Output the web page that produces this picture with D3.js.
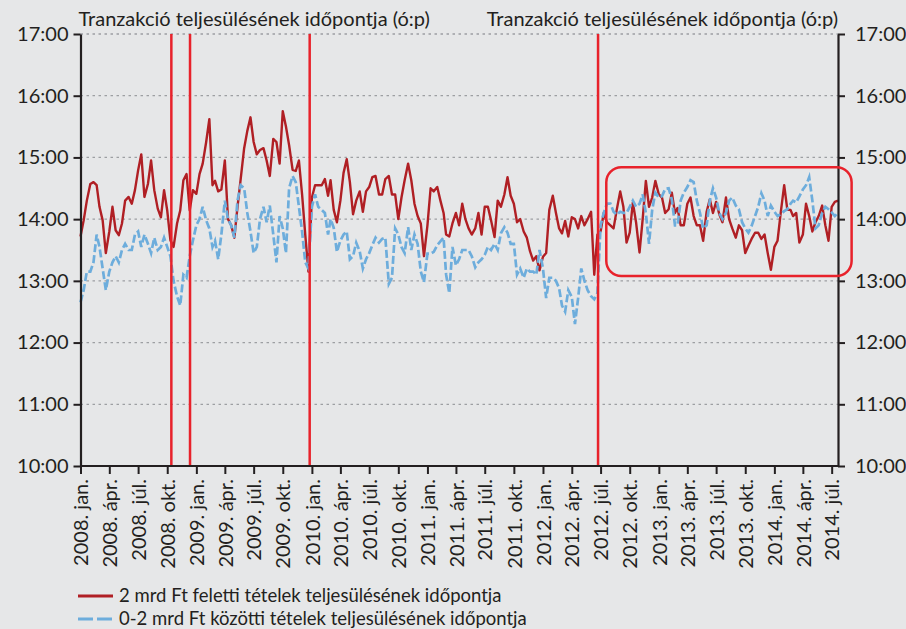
<!DOCTYPE html>
<html>
<head>
<meta charset="utf-8">
<script src="https://cdn.jsdelivr.net/npm/d3@7"></script>
<style>
body { margin: 0; background: #e6e7e8; }
svg { display: block; font-family: Lato, "Open Sans", sans-serif; }
</style>
</head>
<body>
<script>
// series start in 2008 jan, three readings per month (1st, 11th, 21st)
var startYear = 2008;
var perMonth = 3;

// 2 mrd Ft feletti tetelek (hours, decimal)
var red = [
 13.72,13.98,14.3,14.57,14.6,14.55,14.2,13.98,13.45,13.8,14.2,13.82,13.74,13.93,14.3,14.36,14.25,14.47,14.79,15.05,
 14.36,14.57,14.95,14.47,14.17,14.03,14.47,14.14,13.66,13.55,13.93,14.14,14.63,14.73,14.14,14.47,14.41,14.73,14.9,15.25,
 15.62,14.55,14.62,14.45,14.48,14.95,14.0,13.9,13.7,14.2,14.65,15.15,15.43,15.65,15.25,15.05,15.12,15.15,14.95,14.7,
 15.3,15.25,14.9,15.75,15.5,15.2,14.8,14.78,14.95,14.4,13.75,13.15,14.35,14.55,14.55,14.55,14.65,14.38,14.63,14.15,
 13.95,14.3,14.75,14.97,14.6,14.08,14.3,14.45,14.12,14.45,14.52,14.68,14.7,14.4,14.4,14.65,14.7,14.4,14.4,14.0,
 14.35,14.63,14.9,14.63,14.25,14.05,13.93,13.4,13.9,14.5,14.45,14.52,14.3,14.1,13.75,13.72,13.93,14.1,13.9,14.25,
 14.0,13.85,13.75,13.85,14.1,13.75,14.2,14.2,13.98,13.71,14.3,14.2,14.4,14.68,14.38,14.25,13.95,14.0,13.8,13.7,
 13.48,13.33,13.4,13.17,13.39,13.45,14.15,14.38,14.1,13.85,13.77,13.97,13.72,14.03,14.0,13.85,14.05,13.9,14.0,14.12,
 13.1,13.75,13.8,14.1,13.95,13.9,13.85,14.15,14.45,14.2,13.62,13.78,14.27,13.95,13.46,14.0,14.62,14.2,14.35,14.62,
 14.4,14.35,14.1,14.16,14.43,14.1,14.18,13.9,13.9,14.25,14.35,14.05,13.9,13.9,13.65,14.12,14.32,14.1,14.28,14.08,
 13.95,14.35,14.0,13.85,13.7,13.9,13.82,13.45,13.57,13.68,13.78,13.78,13.68,13.75,13.45,13.18,13.55,13.65,14.1,14.55,
 14.15,14.15,14.05,14.1,13.62,13.75,14.25,14.05,13.8,13.95,14.05,14.22,13.9,13.65,14.2,14.28,14.3
];

// 0-2 mrd Ft kozotti tetelek (hours, decimal)
var blue = [
 12.65,12.85,13.15,13.15,13.3,13.75,13.55,13.2,12.85,13.15,13.3,13.4,13.3,13.5,13.6,13.5,13.5,13.75,13.8,13.55,
 13.75,13.6,13.45,13.7,13.5,13.55,13.7,13.55,13.4,13.0,12.75,12.6,13.1,13.05,13.4,13.65,13.9,14.0,14.2,13.98,
 13.85,13.55,13.65,13.35,13.75,14.3,14.0,13.9,13.7,14.3,14.55,14.5,14.1,13.8,13.45,13.55,14.0,14.2,13.95,14.22,
 13.75,13.3,14.05,13.85,13.45,14.5,14.7,14.6,14.2,13.8,13.3,13.2,14.2,14.4,14.2,14.15,14.1,13.75,14.0,13.86,
 13.47,13.65,13.75,13.8,13.35,13.4,13.62,13.48,13.2,13.35,13.45,13.58,13.7,13.62,13.68,13.7,12.95,13.05,13.85,13.75,
 13.55,13.45,13.87,13.5,13.75,13.6,13.15,12.98,13.44,13.44,13.47,13.58,13.64,13.7,13.1,12.8,13.55,13.25,13.35,13.5,
 13.5,13.5,13.4,13.22,13.3,13.35,13.42,13.55,13.5,13.6,13.5,13.77,13.87,13.78,13.6,13.6,13.1,13.2,13.05,13.2,
 13.15,13.15,13.1,13.5,13.2,12.72,13.05,13.05,13.0,12.88,12.6,12.5,12.85,12.74,12.3,12.72,13.2,13.0,12.85,12.75,
 12.7,12.8,13.9,14.1,14.25,14.25,14.12,14.07,14.12,14.1,14.1,14.2,14.3,14.2,14.25,14.4,14.1,13.6,14.15,14.43,
 14.35,14.37,14.49,14.5,14.32,13.9,13.9,14.3,14.43,14.52,14.63,14.6,14.3,14.1,13.85,13.9,14.3,14.5,14.35,14.1,
 14.0,14.1,14.3,14.35,14.22,14.16,13.95,13.85,13.78,13.89,14.05,14.2,14.42,14.3,14.05,14.22,14.12,14.05,14.08,14.13,
 14.16,14.25,14.3,14.27,14.37,14.48,14.55,14.68,14.3,13.85,13.9,14.1,14.2,14.16,14.11,14.05,14.1
];

var hourTicks = [10, 11, 12, 13, 14, 15, 16, 17];
var quarterNames = ["jan.", "ápr.", "júl.", "okt."];
var eventDates = ["2008-10-14", "2008-12-12", "2009-12-25", "2012-06-23"];
var highlightDates = ["2012-07-19", "2014-09-02"];
var highlightHours = [13.08, 14.84];
var titleText = "Tranzakció teljesülésének időpontja (ó:p)";
var legendLabels = ["2 mrd Ft feletti tételek teljesülésének időpontja",
                    "0-2 mrd Ft közötti tételek teljesülésének időpontja"];

var width = 906, height = 629;
var plotLeft = 80.5, plotRight = 838, plotTop = 34, plotBottom = 466;
var redColor = "#b01f24", blueColor = "#6daddc", markColor = "#e8222b", axisColor = "#231f20";

function pointDate(i) {
  return new Date(startYear, Math.floor(i / perMonth), 1 + 10 * (i % perMonth));
}
var parse = d3.timeParse("%Y-%m-%d");

var x = d3.scaleTime()
  .domain([new Date(2008, 0, 1), new Date(2014, 6, 21)])
  .range([plotLeft, plotRight]);
var y = d3.scaleLinear()
  .domain([10, 17])
  .range([plotBottom, plotTop]);

var svg = d3.select("body").append("svg")
  .attr("width", width)
  .attr("height", height);

svg.append("rect")
  .attr("width", width).attr("height", height)
  .attr("fill", "#e6e7e8");

// grid
svg.append("g").selectAll("line")
  .data(hourTicks.filter(function(d){ return d > 10; }))
  .enter().append("line")
  .attr("x1", plotLeft).attr("x2", plotRight)
  .attr("y1", function(d){ return y(d); })
  .attr("y2", function(d){ return y(d); })
  .attr("stroke", "#9d9fa2")
  .attr("stroke-width", 1.3)
  .attr("stroke-dasharray", "2.5,3.5");

// series
var line = d3.line()
  .x(function(d, i){ return x(pointDate(i)); })
  .y(function(d){ return y(d); });

svg.append("path")
  .datum(red)
  .attr("d", line)
  .attr("fill", "none")
  .attr("stroke", redColor)
  .attr("stroke-width", 2.4)
  .attr("stroke-linejoin", "round");

svg.append("path")
  .datum(blue)
  .attr("d", line)
  .attr("fill", "none")
  .attr("stroke", blueColor)
  .attr("stroke-width", 2.7)
  .attr("stroke-dasharray", "8,3");

// event lines
svg.append("g").selectAll("line")
  .data(eventDates)
  .enter().append("line")
  .attr("x1", function(d){ return x(parse(d)); })
  .attr("x2", function(d){ return x(parse(d)); })
  .attr("y1", plotTop).attr("y2", plotBottom)
  .attr("stroke", markColor)
  .attr("stroke-width", 2.5);

// axes
var fmtHour = function(d){ return d + ":00"; };
var yLeft = svg.append("g")
  .attr("transform", "translate(" + plotLeft + ",0)")
  .call(d3.axisLeft(y).tickValues(hourTicks).tickFormat(fmtHour).tickSize(7).tickSizeOuter(0).tickPadding(5));
var yRight = svg.append("g")
  .attr("transform", "translate(" + plotRight + ",0)")
  .call(d3.axisRight(y).tickValues(hourTicks).tickFormat(fmtHour).tickSize(7).tickSizeOuter(0).tickPadding(10));

var quarters = d3.timeMonth.every(3).range(new Date(2008, 0, 1), new Date(2014, 7, 1));
var xAxis = svg.append("g")
  .attr("transform", "translate(0," + plotBottom + ")")
  .call(d3.axisBottom(x).tickValues(quarters).tickSize(8).tickSizeOuter(0)
    .tickFormat(function(d){ return d.getFullYear() + ". " + quarterNames[Math.floor(d.getMonth() / 3)]; }));
xAxis.select(".domain").attr("d", "M" + plotLeft + ",0H" + plotRight);

[yLeft, yRight, xAxis].forEach(function(g){
  g.selectAll(".domain").attr("stroke", axisColor).attr("stroke-width", 2.2);
  g.selectAll(".tick line").attr("stroke", axisColor).attr("stroke-width", 2);
  g.selectAll("text").attr("fill", "#231f20").attr("font-size", 20).attr("font-family", "Lato, 'Open Sans', sans-serif");
});

xAxis.selectAll("text")
  .attr("transform", "rotate(-90)")
  .attr("text-anchor", "end")
  .attr("x", -13)
  .attr("y", 0)
  .attr("dy", "0.36em");

// titles
svg.append("text")
  .attr("x", plotLeft - 2).attr("y", 26)
  .attr("font-size", 20).attr("fill", "#231f20")
  .text(titleText);
svg.append("text")
  .attr("x", plotRight).attr("y", 26)
  .attr("text-anchor", "end")
  .attr("font-size", 20).attr("fill", "#231f20")
  .text(titleText);

// highlight box
svg.append("rect")
  .attr("x", x(parse(highlightDates[0])))
  .attr("y", y(highlightHours[1]))
  .attr("width", x(parse(highlightDates[1])) - x(parse(highlightDates[0])))
  .attr("height", y(highlightHours[0]) - y(highlightHours[1]))
  .attr("rx", 15).attr("ry", 15)
  .attr("fill", "none")
  .attr("stroke", markColor)
  .attr("stroke-width", 2.5);

// legend
var legend = svg.append("g");
var legendRows = [
  {label: legendLabels[0], color: redColor, dash: null, y: 596},
  {label: legendLabels[1], color: blueColor, dash: "15,4", y: 619}
];
legendRows.forEach(function(r){
  legend.append("line")
    .attr("x1", 78).attr("x2", 113)
    .attr("y1", r.y).attr("y2", r.y)
    .attr("stroke", r.color)
    .attr("stroke-width", 3)
    .attr("stroke-dasharray", r.dash);
  legend.append("text")
    .attr("x", 119).attr("y", r.y)
    .attr("dy", "0.35em")
    .attr("font-size", 18.5).attr("fill", "#231f20")
    .text(r.label);
});
</script>
</body>
</html>
